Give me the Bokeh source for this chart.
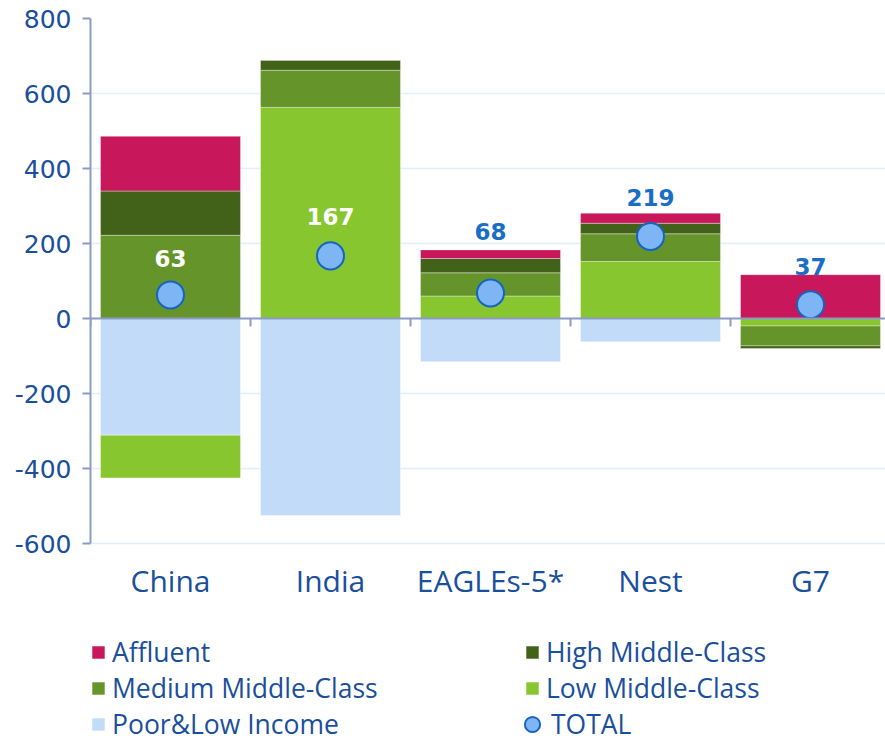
import numpy as np
from bokeh.plotting import figure
from bokeh.models import (ColumnDataSource, Range1d, FixedTicker, Span, Legend, LegendItem)
from bokeh.core.properties import value
from bokeh.embed import file_html
from bokeh.resources import INLINE

# ---- data ----
categories = ["China", "India", "EAGLEs-5*", "Nest", "G7"]
series_names = ["Poor&Low Income", "Low Middle-Class", "Medium Middle-Class",
                "High Middle-Class", "Affluent"]
poor_low = [-311, -525, -115, -62, 0]
low_middle = [-114, 563, 60, 152, -20]
medium_middle = [222, 99, 62, 74, -53]
high_middle = [118, 27, 38, 28, -7]
affluent = [146, 0, 23, 27, 117]
total = [63, 167, 68, 219, 37]
total_labels = ["63", "167", "68", "219", "37"]
y_ticks = [-600, -400, -200, 0, 200, 400, 600, 800]
y_min, y_max = -600, 800

# ---- styles / layout ----
series_colors = ["#c2dbf8", "#88c630", "#65952a", "#436219", "#c8175a"]
label_colors = ["white", "white", "#1a6ec4", "#1a6ec4", "#1a6ec4"]
label_offsets = [-36, -39, -62, -39, -38]
text_blue = "#1a4f9c"
axis_col = "#8c9bc5"

W, H = 885, 742
left, top_b = 90, 18
px_per_unit = 525 / (y_max - y_min)          # plotting area 525 px tall
frame_h = H - top_b                           # frame extends to the page bottom (for legend)
y_start = y_max - frame_h / px_per_unit

x = np.arange(len(categories))
series_vals = [poor_low, low_middle, medium_middle, high_middle, affluent]

p = figure(width=W, height=H, output_backend="svg", toolbar_location=None,
           x_range=Range1d(-0.5, -0.5 + (W - left) / 160), y_range=Range1d(y_start, y_max),
           min_border_left=left, min_border_right=0, min_border_top=top_b,
           min_border_bottom=0)
p.outline_line_color = None
p.xaxis.visible = False
p.xgrid.grid_line_color = None
p.ygrid.grid_line_color = "#e2effb"
p.ygrid.grid_line_width = 1.5
p.ygrid.ticker = FixedTicker(ticks=y_ticks)
p.ygrid.bounds = (y_min, y_max)

# y axis
p.yaxis.bounds = (y_min, y_max)
p.yaxis.ticker = FixedTicker(ticks=y_ticks)
p.yaxis.major_label_overrides = {t: str(t) for t in y_ticks}
p.yaxis.axis_line_color = axis_col
p.yaxis.axis_line_width = 2
p.yaxis.major_tick_line_color = axis_col
p.yaxis.major_tick_line_width = 2
p.yaxis.major_tick_out = 8
p.yaxis.major_tick_in = 0
p.yaxis.minor_tick_line_color = None
p.yaxis.major_label_text_font = "DejaVu Sans"
p.yaxis.major_label_text_font_size = "25px"
p.yaxis.major_label_text_color = text_blue
p.yaxis.major_label_standoff = 11

# stacked bars with separate positive / negative stacking
pos_base = np.zeros(len(x))
neg_base = np.zeros(len(x))
renderers = {}
for name, vals, col in zip(series_names, series_vals, series_colors):
    v = np.array(vals, dtype=float)
    bottom = np.where(v >= 0, pos_base, neg_base)
    top = bottom + v
    pos_base = np.where(v >= 0, pos_base + v, pos_base)
    neg_base = np.where(v < 0, neg_base + v, neg_base)
    src = ColumnDataSource(dict(x=x, top=top, bottom=bottom))
    r = p.vbar(x="x", top="top", bottom="bottom", width=0.875, source=src,
               fill_color=col, line_color="white", line_alpha=0.35, line_width=1)
    renderers[name] = r

# zero line and category-boundary ticks
p.add_layout(Span(location=0, dimension="width", line_color=axis_col, line_width=2))
bounds = np.arange(len(categories) + 1) - 0.5
tick_len = 8 / px_per_unit
p.segment(x0=bounds, y0=np.zeros(len(bounds)), x1=bounds, y1=np.full(len(bounds), -tick_len),
          line_color=axis_col, line_width=2)

# category labels below the plotting area
csrc = ColumnDataSource(dict(x=x, y=np.full(len(x), y_min), lab=categories))
p.text(x="x", y="y", text="lab", source=csrc, y_offset=37, text_align="center",
       text_baseline="middle", text_font=value("Open Sans"), text_font_size="30px",
       text_color=text_blue)

# totals
tsrc = ColumnDataSource(dict(x=x, y=total, lab=total_labels, col=label_colors,
                             off=label_offsets))
rt = p.scatter(x="x", y="y", size=27, source=tsrc, fill_color="#7db5f5",
               line_color="#1565c0", line_width=2)
p.text(x="x", y="y", text="lab", source=tsrc, y_offset="off", text_align="center",
       text_baseline="middle", text_font=value("DejaVu Sans"), text_font_style="bold",
       text_font_size="23px", text_color="col")

legend_order = ["Affluent", "High Middle-Class", "Medium Middle-Class",
                "Low Middle-Class", "Poor&Low Income"]
common = dict(padding=0, margin=0, spacing=0, label_text_font="Open Sans",
              label_text_font_size="26.5px", label_text_color=text_blue,
              border_line_color=None, background_fill_alpha=0)
items = [LegendItem(label=n, renderers=[renderers[n]]) for n in legend_order]
legend_a = Legend(items=items, ncols=2, orientation="horizontal", location=(0, 0),
                  glyph_width=16, glyph_height=16, label_standoff=6, label_width=412,
                  **common)
p.add_layout(legend_a, "center")
legend_b = Legend(items=[LegendItem(label="TOTAL", renderers=[rt])], location=(423, -1),
                  glyph_width=38, glyph_height=38, label_standoff=0, **common)
p.add_layout(legend_b, "center")

open("out.html", "w").write(file_html(p, INLINE))
